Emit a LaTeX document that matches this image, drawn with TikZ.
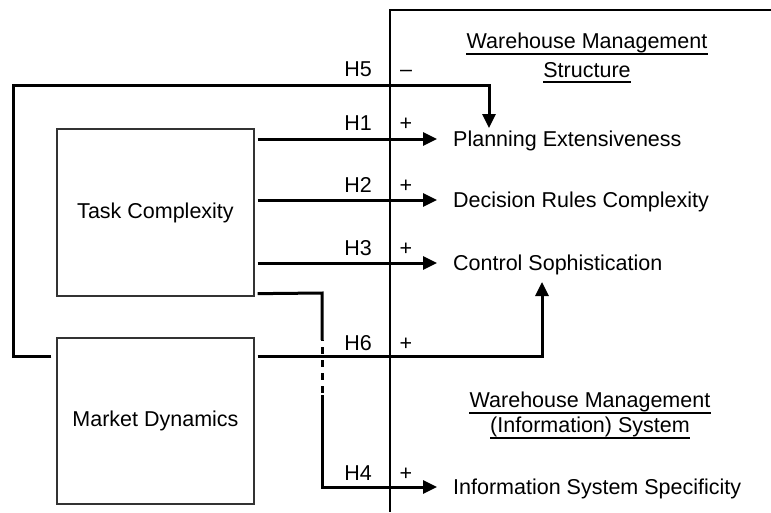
\documentclass[tikz,border=0pt]{standalone}
\usepackage{fontspec}
\setmainfont{Liberation Sans}
\usetikzlibrary{arrows.meta}
\begin{document}
\begin{tikzpicture}[x=1pt,y=-1pt,
  every node/.style={font=\fontsize{21.5}{25}\selectfont},
  box/.style={draw=black!80, line width=1.3pt, minimum width=197pt, minimum height=167pt, inner sep=0pt},
  target/.style={anchor=west, inner xsep=16pt, inner ysep=0pt, text height=15pt, text depth=0pt},
  hlab/.style={inner sep=0pt, text height=15pt, text depth=0pt},
  conn/.style={line width=3pt, line join=miter},
  arr/.style={conn, -{Triangle[length=14pt,width=13pt]}},
  axisline/.style={line width=2.3pt},
  uline/.style={line width=1.5pt},
  hdr/.style={inner sep=0pt, anchor=base}
]
\useasboundingbox (0,0) rectangle (771,512);

% main axis
\coordinate (axtop) at (390,10);
\coordinate (axright) at (771,10);
\coordinate (axbot) at (390,512);
\draw[axisline] (axright) -- (axtop) -- (axbot);

% boxes
\node[box] (tc) at (155.5,212.5) {Task Complexity};
\node[box, minimum height=166pt] (md) at (155.5,421) {Market Dynamics};

% targets
\node[target] (pe) at (437,139) {Planning Extensiveness};
\node[target] (dr) at (437,200) {Decision Rules Complexity};
\node[target] (cs) at (437,263) {Control Sophistication};
\node[target] (is) at (437,487) {Information System Specificity};

% headers
\node[hdr] (ws1) at (587,48) {Warehouse Management};
\node[hdr] (ws2) at (587,77) {Structure};
\draw[uline] ([yshift=-6pt]ws1.base west) -- ([yshift=-6pt]ws1.base east);
\draw[uline] ([yshift=-5pt]ws2.base west) -- ([yshift=-5pt]ws2.base east);
\node[hdr] (wi1) at (590,407) {Warehouse Management};
\node[hdr] (wi2) at (590,432) {(Information) System};
\draw[uline] ([yshift=-6pt]wi1.base west) -- ([yshift=-6pt]wi1.base east);
\draw[uline] ([yshift=-6pt]wi2.base west) -- ([yshift=-6pt]wi2.base east);

% connectors
\coordinate (h5corner) at (13,85);
\coordinate (h5tip) at (489,128);
\coordinate (h6tip) at (542,282);
\coordinate (h4a) at (322,293);
\coordinate (h4b) at (322,340);
\coordinate (h4c) at (322,395);

\draw[arr] ([xshift=3pt]tc.east |- pe.west) -- (pe.west);
\draw[arr] ([xshift=3pt]tc.east |- dr.west) -- (dr.west);
\draw[arr] ([xshift=3pt]tc.east |- cs.west) -- (cs.west);
\draw[arr] ([shift={(-5,19)}]md.north west) -| (h5corner) -| (h5tip);
\draw[arr] ([shift={(3,19)}]md.north east) -| (h6tip);
\draw[conn] ([shift={(3,-3)}]tc.south east) -- (h4a) -- (h4b);
\draw[conn, dash pattern=on 7pt off 6pt, dash phase=6pt] (h4b) -- (h4c);
\draw[arr] (h4c) |- (is.west);

% labels
\node[hlab] (l5) at (358,69) {H5};
\node[hlab] (s5) at (406,69) {--};
\node[hlab] (l1) at (358,123) {H1};
\node[hlab] (s1) at (406,123) {+};
\node[hlab] (l2) at (358,185) {H2};
\node[hlab] (s2) at (406,185) {+};
\node[hlab] (l3) at (358,248) {H3};
\node[hlab] (s3) at (406,248) {+};
\node[hlab] (l6) at (358,343) {H6};
\node[hlab] (s6) at (406,343) {+};
\node[hlab] (l4) at (358,473) {H4};
\node[hlab] (s4) at (406,473) {+};
\end{tikzpicture}
\end{document}
